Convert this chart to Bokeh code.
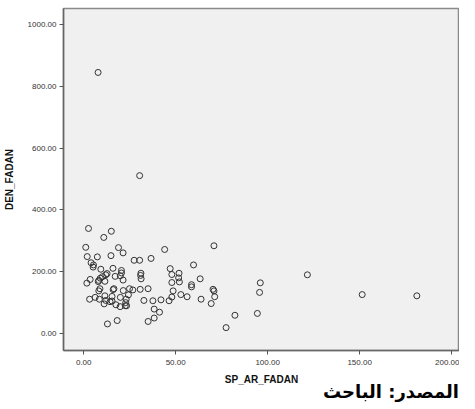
from bokeh.plotting import figure
from bokeh.models import Range1d, FixedTicker, PrintfTickFormatter, Div, ColumnDataSource
from bokeh.layouts import column
from bokeh.embed import file_html
from bokeh.resources import INLINE

sp_ar_fadan = [2.6, 15, 10.9, 1.1, 18.9, 21.4, 14.8, 1.9, 7.4, 4.0, 5.3, 5.1, 9.3, 15.9, 20.5, 20.5,
               12.7, 12.0, 17.1, 19.9, 10.2, 9.0, 21.4, 11.5, 8.2, 3.5, 1.7, 7.9, 8.8, 8.2, 16.4, 16.0,
               21.5, 24.9, 26.7, 24.3, 23.1, 22.8, 19.9, 15.4, 11.5, 6.2, 3.2, 8.5, 12.0, 11.1, 14.3,
               15.4, 17.5, 19.8, 22.6, 23.3, 18.2, 12.9, 27.4, 30.4, 36.6, 44.0, 31.1, 30.9, 31.2,
               30.7, 35.0, 32.7, 37.6, 42.0, 46.4, 38.3, 41.2, 38.3, 35.0, 47.0, 47.9, 47.9, 48.6,
               47.9, 51.8, 51.6, 52.0, 52.8, 56.2, 59.7, 58.6, 58.6, 63.3, 63.8, 69.3, 70.8, 70.3,
               70.8, 71.2, 77.4, 82.2, 121.6, 96.0, 95.6, 94.4, 151.4, 181.1, 7.8, 30.4]
den_fadan = [340, 331, 311, 279, 278, 261, 252, 249, 248, 229, 222, 215, 208, 211, 204, 196,
             194, 190, 185, 187, 184, 179, 173, 169, 172, 175, 163, 168, 145, 138, 145, 142,
             139, 145, 141, 125, 111, 100, 117, 120, 122, 117, 111, 111, 107, 96, 103,
             105, 93, 87, 90, 90, 42, 31, 237, 237, 243, 272, 195, 188, 177,
             143, 145, 107, 106, 109, 106, 79, 69, 50, 39, 210, 191, 165, 138,
             118, 195, 180, 167, 126, 119, 222, 158, 151, 177, 111, 97, 284, 143,
             138, 119, 19, 59, 190, 164, 133, 65, 126, 122, 845, 511]

x_ticks = [0, 50, 100, 150, 200]
y_ticks = [0, 200, 400, 600, 800, 1000]
source_note = "المصدر: الباحث"

src = ColumnDataSource(dict(x=sp_ar_fadan, y=den_fadan))

p = figure(width=459, height=387, output_backend="svg", toolbar_location=None,
           x_range=Range1d(-11, 204.3), y_range=Range1d(-55, 1052),
           min_border_left=53, min_border_right=0, min_border_top=8, min_border_bottom=37)

p.border_fill_color = "white"
p.background_fill_color = "#f0f0f0"
p.outline_line_color = "#8a8a8a"
p.outline_line_width = 1.5
p.grid.visible = False

p.scatter("x", "y", source=src, size=6, marker="circle", fill_color=None,
          line_color="#333333", line_width=1)

for ax, ticks in ((p.xaxis[0], x_ticks), (p.yaxis[0], y_ticks)):
    ax.ticker = FixedTicker(ticks=ticks)
    ax.formatter = PrintfTickFormatter(format="%.2f")
    ax.minor_tick_line_color = None
    ax.major_tick_out = 4
    ax.major_tick_in = 0
    ax.axis_line_color = "#666666"
    ax.axis_line_width = 1.5
    ax.major_tick_line_color = "#555555"
    ax.major_label_text_font = "Liberation Sans"
    ax.major_label_text_font_size = "8px"
    ax.major_label_text_color = "#333333"
    ax.axis_label_text_font = "Liberation Sans"
    ax.axis_label_text_font_size = "10px"
    ax.axis_label_text_font_style = "bold"
    ax.axis_label_text_color = "#111111"

p.xaxis.axis_label = "SP_AR_FADAN"
p.yaxis.axis_label = "DEN_FADAN"
p.xaxis.major_label_standoff = 5
p.xaxis.axis_label_standoff = 6
p.yaxis.major_label_standoff = 3
p.yaxis.axis_label_standoff = 10

note = Div(text=source_note, width=459, height=14, margin=(-4, 0, 0, 0),
           styles={"text-align": "right", "font-size": "18px", "font-weight": "bold",
                   "font-family": "DejaVu Sans", "line-height": "18px", "color": "black",
                   "direction": "rtl", "width": "459px"})

layout = column(p, note, spacing=0)

open("out.html", "w").write(file_html(layout, INLINE))
